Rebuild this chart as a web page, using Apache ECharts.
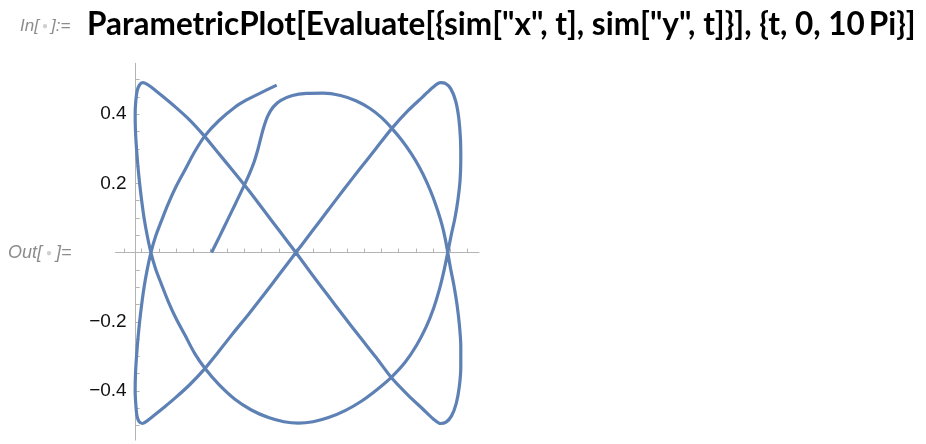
<!DOCTYPE html>
<html><head><meta charset="utf-8">
<script src="https://cdn.jsdelivr.net/npm/echarts@6/dist/echarts.min.js"></script>
<style>html,body{margin:0;padding:0;background:#fff}#c{width:926px;height:444px}</style>
</head><body><div id="c"></div>
<script>
// Traced curve points (x, y) in parameter order
const xValues = [
 // start -> top arch -> right crossing
 0.754,0.777,0.800,0.824,0.847,0.864,0.878,0.889,0.898,0.907,0.918,0.934,0.956,0.990,1.031,1.080,1.130,1.175,1.215,1.250,1.280,1.310,1.337,1.361,1.382,1.400,1.415,1.427,1.436,1.443,
 // right lower edge
 1.451,1.461,1.470,1.477,1.481,1.481,1.477,1.468,1.454,1.438,1.422,
 // diagonal to top-left tip
 1.400,1.370,1.327,1.279,1.233,1.185,1.138,1.092,1.046,1.000,0.954,0.908,0.862,0.815,0.770,0.730,0.688,0.648,0.612,0.582,0.565,0.553,0.544,0.537,
 // left upper edge -> bottom arch
 0.533,0.531,0.532,0.535,0.539,0.544,0.550,0.557,0.566,0.577,0.590,0.607,0.627,0.650,0.677,0.705,0.735,0.775,0.822,0.870,0.920,0.965,1.007,1.050,1.095,1.145,1.192,1.238,1.279,1.318,1.352,1.380,1.402,1.419,1.432,1.443,
 // right upper edge
 1.453,1.464,1.473,1.479,1.481,1.480,1.475,1.466,1.452,1.436,1.422,
 // diagonal to bottom-left tip
 1.400,1.370,1.327,1.280,1.233,1.185,1.138,1.092,1.046,1.000,0.954,0.908,0.862,0.816,0.773,0.733,0.690,0.648,0.612,0.582,0.565,0.552,0.542,0.536,
 // left lower edge -> end
 0.533,0.531,0.532,0.535,0.539,0.544,0.550,0.557,0.566,0.577,0.590,0.607,0.627,0.650,0.677,0.705,0.735,0.775,0.822,0.856,0.890,0.944
];
const yValues = [
 0.000,0.046,0.093,0.142,0.190,0.227,0.262,0.298,0.333,0.365,0.395,0.421,0.440,0.454,0.460,0.461,0.454,0.439,0.417,0.390,0.359,0.323,0.285,0.245,0.203,0.160,0.117,0.077,0.038,0.000,
 -0.045,-0.095,-0.150,-0.210,-0.270,-0.330,-0.385,-0.435,-0.472,-0.490,-0.494,
 -0.480,-0.452,-0.412,-0.362,-0.302,-0.242,-0.182,-0.122,-0.062,0.000,0.060,0.120,0.180,0.238,0.292,0.340,0.385,0.421,0.451,0.475,0.487,0.491,0.485,0.468,
 0.440,0.400,0.350,0.300,0.250,0.200,0.150,0.100,0.050,0.000,-0.045,-0.090,-0.140,-0.190,-0.240,-0.292,-0.335,-0.381,-0.424,-0.455,-0.477,-0.489,-0.493,-0.489,-0.477,-0.456,-0.429,-0.395,-0.360,-0.318,-0.268,-0.215,-0.160,-0.105,-0.052,0.000,
 0.050,0.100,0.155,0.210,0.270,0.330,0.390,0.438,0.473,0.489,0.491,
 0.478,0.450,0.410,0.359,0.300,0.240,0.180,0.120,0.060,0.000,-0.060,-0.120,-0.178,-0.234,-0.288,-0.337,-0.382,-0.420,-0.450,-0.474,-0.487,-0.494,-0.488,-0.470,
 -0.440,-0.400,-0.350,-0.300,-0.250,-0.200,-0.150,-0.100,-0.050,0.000,0.045,0.090,0.140,0.190,0.240,0.292,0.338,0.381,0.420,0.441,0.458,0.484
];
const xTickLabels = [0.6, 0.8, 1.0, 1.2, 1.4];
const yTickLabels = [-0.4, -0.2, 0.2, 0.4];
const xTicks = [0.5,0.55,0.6,0.65,0.7,0.75,0.8,0.85,0.9,0.95,1.0,1.05,1.1,1.15,1.2,1.25,1.3,1.35,1.4,1.45,1.5];
const yTicks = [-0.5,-0.45,-0.4,-0.35,-0.3,-0.25,-0.2,-0.15,-0.1,-0.05,0.05,0.1,0.15,0.2,0.25,0.3,0.35,0.4,0.45,0.5];

const fmt = v => (v < 0 ? '\u2212' : '') + Math.abs(v).toFixed(1);
const axisColor = '#b4b4b4';
const labelStyle = {color:'#111', fontSize:19, fontFamily:'Liberation Sans, Arial, sans-serif'};

const chart = echarts.init(document.getElementById('c'), null, {renderer:'canvas'});
chart.setOption({
  animation:false,
  backgroundColor:'#fff',
  grid:{left:115.45, top:63.3, width:363.5, height:376.8, containLabel:false, outerBoundsMode:'none'},
  xAxis:{
    type:'value', min:0.4735, max:1.534,
    axisLine:{onZero:true, lineStyle:{color:axisColor, width:1}},
    axisTick:{show:true, inside:true, length:4, customValues:xTicks, lineStyle:{color:axisColor}},
    axisLabel:Object.assign({customValues:xTickLabels, formatter:fmt, margin:8}, labelStyle),
    splitLine:{show:false}
  },
  yAxis:{
    type:'value', min:-0.542, max:0.547, position:'left', offset:-20.2,
    axisLine:{show:true, onZero:false, lineStyle:{color:axisColor, width:1}},
    axisTick:{show:true, inside:true, length:4, customValues:yTicks, lineStyle:{color:axisColor}},
    axisLabel:Object.assign({customValues:yTickLabels, formatter:fmt, margin:9}, labelStyle),
    splitLine:{show:false}
  },
  series:[{
    type:'line',
    data:xValues.map((x,i)=>[x, yValues[i]]),
    smooth:0.3,
    showSymbol:false, symbol:'none',
    lineStyle:{color:'#5E81B5', width:3.2},
    clip:false
  }],
  graphic:[
    {type:'text', x:20, y:26, style:{
      text:'{a|In[}{d|●}{a|]:=}', verticalAlign:'middle',
      rich:{
        a:{fontFamily:'Liberation Sans, sans-serif', fontStyle:'italic', fontSize:17, fill:'#8c8c8c'},
        d:{fontFamily:'Liberation Sans, sans-serif', fontSize:10, fill:'#d0d0d0', padding:[0,3,0,3]}
      }}},
    {type:'text', x:87, y:25, style:{
      text:'ParametricPlot[Evaluate[{sim["x", t], sim["y", t]}], {t, 0, 10\u2009Pi}]',
      fontFamily:'Lato, sans-serif', fontWeight:'bold', fontSize:31.5, fill:'#000', verticalAlign:'middle'}},
    {type:'text', x:8, y:253, style:{
      text:'{a|Out[}{d|●}{a|]=}', verticalAlign:'middle',
      rich:{
        a:{fontFamily:'Liberation Sans, sans-serif', fontStyle:'italic', fontSize:18, fill:'#8c8c8c'},
        d:{fontFamily:'Liberation Sans, sans-serif', fontSize:10, fill:'#d0d0d0', padding:[0,4,0,4]}
      }}}
  ]
});
</script></body></html>
